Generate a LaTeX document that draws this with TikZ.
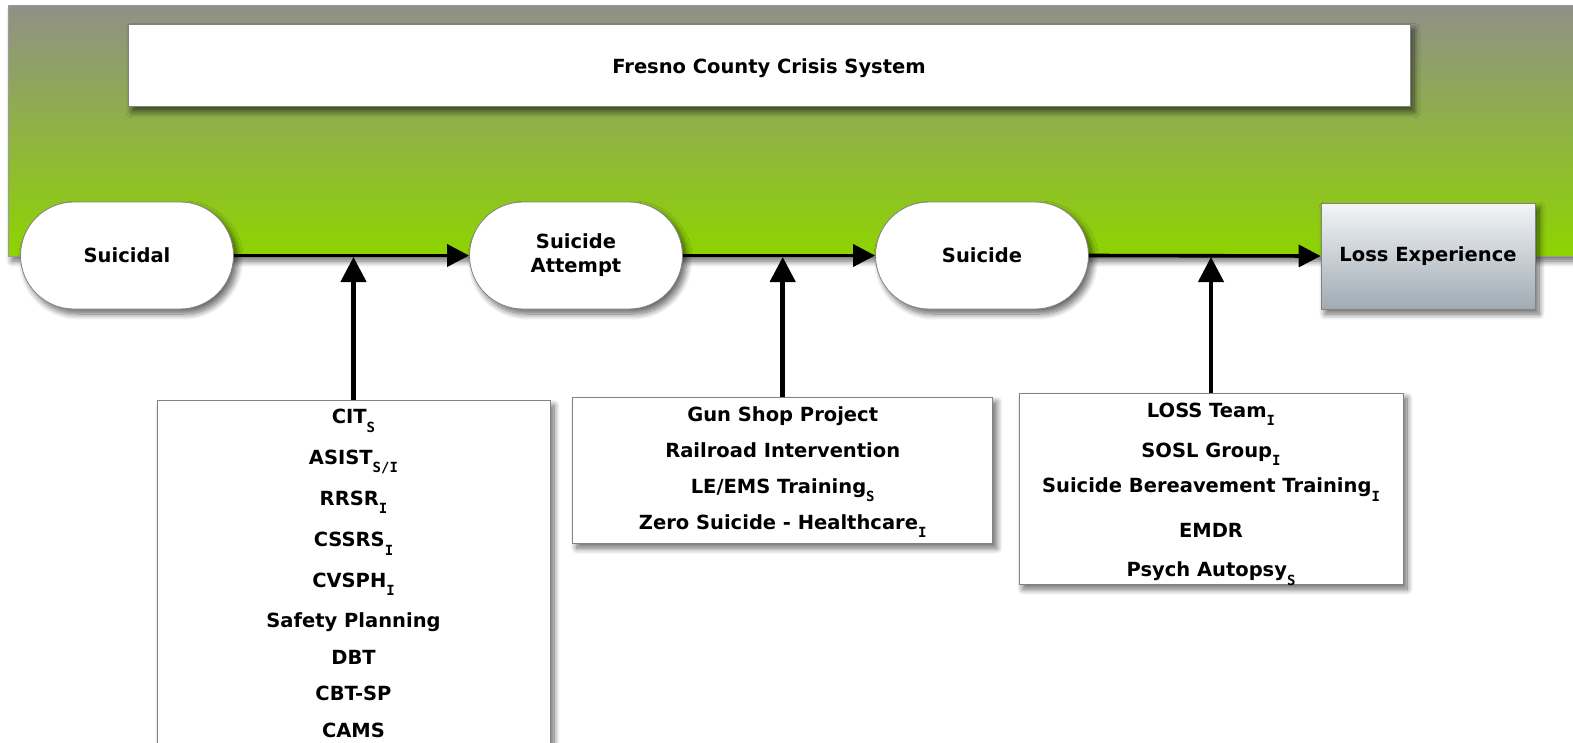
\documentclass[tikz,border=0pt]{standalone}
\usepackage{fontspec}
\setmainfont{DejaVu Sans}
\newfontfamily\subfont{DejaVu Sans Mono}
\usetikzlibrary{shapes.misc,shadows.blur,arrows.meta}
\newcommand{\sbs}[1]{\raisebox{-8.5pt}{\subfont\bfseries\fontsize{14}{14}\selectfont #1}}
\definecolor{bordergray}{RGB}{130,130,130}
\definecolor{bantop}{RGB}{144,144,136}
\definecolor{banbot}{RGB}{142,212,0}
\definecolor{losstop}{RGB}{243,245,247}
\definecolor{lossbot}{RGB}{160,171,180}
\tikzset{
  shad/.style={blur shadow={shadow xshift=4pt,shadow yshift=-5pt,shadow opacity=60,shadow blur steps=10,shadow blur radius=6pt}},
  banner/.style={draw=bordergray!80,line width=0.8pt,top color=bantop,bottom color=banbot,shad,inner sep=0pt},
  whitebox/.style={draw=bordergray,line width=0.8pt,fill=white,shad,inner sep=0pt},
  stad/.style={rounded rectangle,draw=bordergray,line width=0.8pt,fill=white,shad,minimum width=213pt,minimum height=107pt,inner sep=0pt,align=center,font=\bfseries\fontsize{19.5}{24}\selectfont},
  lossbox/.style={draw=bordergray,line width=0.8pt,top color=losstop,bottom color=lossbot,shad,minimum width=214pt,minimum height=106pt,inner sep=0pt,font=\bfseries\fontsize{19.5}{22}\selectfont},
  item/.style={anchor=base,inner sep=0pt,font=\bfseries\fontsize{19.5}{22}\selectfont},
  flow/.style={line width=3.6pt,-{Triangle[length=22pt,width=22pt]}},
  upflow/.style={line width=4.5pt,-{Triangle[length=25pt,width=25pt]}}
}
\begin{document}
\begin{tikzpicture}[x=1pt,y=-1pt]
\useasboundingbox (0,0) rectangle (1573,742);
% banner
\node[banner,minimum width=1580pt,minimum height=251pt] (banner) at (798,130.5) {};
% title
\node[whitebox,minimum width=1282pt,minimum height=82.5pt] (title) at (769,65.5) {};
\node[item,font=\bfseries\fontsize{19.5}{22}\selectfont] (titletext) at (769,73) {Fresno County Crisis System};
% stages
\node[stad] (s1) at (127,255.5) {Suicidal};
\node[stad] (s2) at (576,255.5) {Suicide\\Attempt};
\node[stad] (s3) at (982,255.5) {Suicide};
\node[lossbox] (s4) at (1428,256) {Loss Experience};
\draw[flow] (s1.east) -- (s2.west);
\draw[flow] (s2.east) -- (s3.west);
\draw[flow] (s3.east) -- (s4.west);
% intervention boxes
\node[whitebox,minimum width=393pt,minimum height=360pt] (b1) at (353.5,580.5) {};
\node[whitebox,minimum width=420pt,minimum height=146pt] (b2) at (782.7,470) {};
\node[whitebox,minimum width=384pt,minimum height=191pt] (b3) at (1211,488.5) {};
\coordinate (j1) at (353.5,257);
\coordinate (j2) at (782.7,257);
\coordinate (j3) at (1211,257);
\draw[upflow] (b1.north) -- (j1);
\draw[upflow] (b2.north) -- (j2);
\draw[upflow] (b3.north) -- (j3);
% box 1 items
\node[item] (a1) at (353.5,423.5) {CIT\sbs{S}};
\node[item] (a2) at (353.5,464) {ASIST\sbs{S/I}};
\node[item] (a3) at (353.5,505) {RRSR\sbs{I}};
\node[item] (a4) at (353.5,546.5) {CSSRS\sbs{I}};
\node[item] (a5) at (353.5,587) {CVSPH\sbs{I}};
\node[item] (a6) at (353.5,627.5) {Safety Planning};
\node[item] (a7) at (353.5,664) {DBT};
\node[item] (a8) at (353.5,700.5) {CBT-SP};
\node[item] (a9) at (353.5,737) {CAMS};
% box 2 items
\node[item] (c1) at (782.7,421) {Gun Shop Project};
\node[item] (c2) at (782.7,457) {Railroad Intervention};
\node[item] (c3) at (782.7,493) {LE/EMS Training\sbs{S}};
\node[item] (c4) at (782.7,529) {Zero Suicide - Healthcare\sbs{I}};
% box 3 items
\node[item] (d1) at (1211,417) {LOSS Team\sbs{I}};
\node[item] (d2) at (1211,457) {SOSL Group\sbs{I}};
\node[item] (d3) at (1211,492.5) {Suicide Bereavement Training\sbs{I}};
\node[item] (d4) at (1211,537) {EMDR};
\node[item] (d5) at (1211,576.5) {Psych Autopsy\sbs{S}};
\end{tikzpicture}
\end{document}
